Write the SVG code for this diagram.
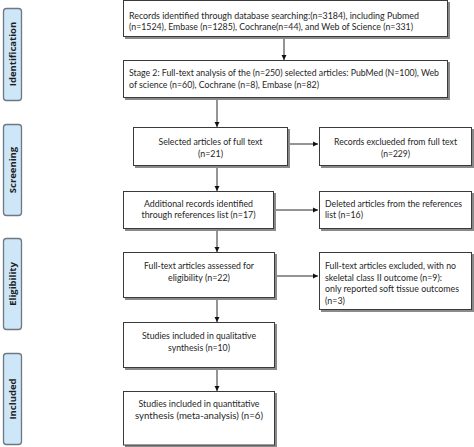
<svg xmlns="http://www.w3.org/2000/svg" width="474" height="447" viewBox="0 0 474 447">
<defs>
<style>
.bx{fill:#fff;stroke:#3a3a3a;stroke-width:1}
.sh{fill:#8a8a8a}
.t{font-family:Lato,"Liberation Sans",sans-serif;font-size:9.4px;fill:#262626}
.c{text-anchor:middle}
.lb{fill:#cde6f8;stroke:#6f7780;stroke-width:1.3}
.lt{font-family:"Open Sans","Liberation Sans",sans-serif;font-size:9.5px;font-weight:bold;fill:#1e1e1e;text-anchor:middle}
.ln{stroke:#2a2a2a;stroke-width:1;fill:none;marker-end:url(#ah)}
</style>
<marker id="ah" markerWidth="6" markerHeight="6" refX="5" refY="3" orient="auto" markerUnits="userSpaceOnUse">
<path d="M0,0.5 L5,3 L0,5.5 Z" fill="#111"/>
</marker>
</defs>

<g id="label-identification">
<rect class="lb" x="3.5" y="8.5" width="18" height="92" rx="3"/>
<text class="lt" transform="translate(15.8,54) rotate(-90)">Identification</text>
</g>
<g id="label-screening">
<rect class="lb" x="3.5" y="124.5" width="18" height="91" rx="3"/>
<text class="lt" transform="translate(15.8,170) rotate(-90)">Screening</text>
</g>
<g id="label-eligibility">
<rect class="lb" x="3.5" y="238.5" width="18" height="91" rx="3"/>
<text class="lt" transform="translate(15.8,284) rotate(-90)">Eligibility</text>
</g>
<g id="label-included">
<rect class="lb" x="3.5" y="353.5" width="18" height="91" rx="3"/>
<text class="lt" transform="translate(15.8,399) rotate(-90)">Included</text>
</g>

<g id="connectors">
<line class="ln" x1="284" y1="37" x2="284" y2="60"/>
<line class="ln" x1="217" y1="98" x2="217" y2="127"/>
<line class="ln" x1="217" y1="166" x2="217" y2="191"/>
<line class="ln" x1="217" y1="229" x2="217" y2="252"/>
<line class="ln" x1="217" y1="298" x2="217" y2="322"/>
<line class="ln" x1="217" y1="368" x2="217" y2="391"/>
<line class="ln" x1="288" y1="144" x2="318" y2="144"/>
<line class="ln" x1="274" y1="210" x2="318" y2="210"/>
<line class="ln" x1="275" y1="276" x2="318" y2="276"/>
</g>

<g id="n1">
<rect class="sh" x="125" y="2" width="325" height="37"/>
<rect class="bx" x="123.5" y="0.5" width="324" height="36"/>
<text class="t" x="129" y="18.5" textLength="290" lengthAdjust="spacingAndGlyphs">Records identified through database searching:(n=3184), including Pubmed</text>
<text class="t" x="129" y="30" textLength="284" lengthAdjust="spacingAndGlyphs">(n=1524), Embase (n=1285), Cochrane(n=44), and Web of Science (n=331)</text>
</g>
<g id="n2">
<rect class="sh" x="125" y="62" width="325" height="38"/>
<rect class="bx" x="123.5" y="60.5" width="324" height="37"/>
<text class="t" x="129" y="76" textLength="310" lengthAdjust="spacingAndGlyphs">Stage 2: Full-text analysis of the (n=250) selected articles: PubMed (N=100), Web</text>
<text class="t" x="129" y="88" textLength="190" lengthAdjust="spacingAndGlyphs">of science (n=60), Cochrane (n=8), Embase (n=82)</text>
</g>
<g id="n3">
<rect class="sh" x="135" y="129" width="155" height="39"/>
<rect class="bx" x="133.5" y="127.5" width="154" height="38"/>
<text class="t c" x="210.5" y="144.5" textLength="104" lengthAdjust="spacingAndGlyphs">Selected articles of full text</text>
<text class="t c" x="210.5" y="156.5" textLength="25" lengthAdjust="spacingAndGlyphs">(n=21)</text>
</g>
<g id="n4">
<rect class="sh" x="321" y="129" width="153" height="39"/>
<rect class="bx" x="319.5" y="127.5" width="152" height="38"/>
<text class="t c" x="395.5" y="144.5" textLength="123" lengthAdjust="spacingAndGlyphs">Records exclueded from full text</text>
<text class="t c" x="395.5" y="156.5" textLength="29" lengthAdjust="spacingAndGlyphs">(n=229)</text>
</g>
<g id="n5">
<rect class="sh" x="125" y="193" width="151" height="38"/>
<rect class="bx" x="123.5" y="191.5" width="150" height="37"/>
<text class="t c" x="198.5" y="206.5" textLength="109" lengthAdjust="spacingAndGlyphs">Additional records identified</text>
<text class="t c" x="198.5" y="218" textLength="114" lengthAdjust="spacingAndGlyphs">through references list (n=17)</text>
</g>
<g id="n6">
<rect class="sh" x="321" y="193" width="153" height="38"/>
<rect class="bx" x="319.5" y="191.5" width="152" height="37"/>
<text class="t" x="325" y="206.5" textLength="137" lengthAdjust="spacingAndGlyphs">Deleted articles from the references</text>
<text class="t" x="325" y="218" textLength="38" lengthAdjust="spacingAndGlyphs">list (n=16)</text>
</g>
<g id="n7">
<rect class="sh" x="125" y="254" width="152" height="46"/>
<rect class="bx" x="123.5" y="252.5" width="151" height="45"/>
<text class="t c" x="199" y="269" textLength="110" lengthAdjust="spacingAndGlyphs">Full-text articles assessed for</text>
<text class="t c" x="199" y="280.5" textLength="62" lengthAdjust="spacingAndGlyphs">eligibility (n=22)</text>
</g>
<g id="n8">
<rect class="sh" x="321" y="254" width="153" height="58"/>
<rect class="bx" x="319.5" y="252.5" width="152" height="57"/>
<text class="t" x="325" y="269" textLength="131" lengthAdjust="spacingAndGlyphs">Full-text articles excluded, with no</text>
<text class="t" x="325" y="280.5" textLength="117" lengthAdjust="spacingAndGlyphs">skeletal class II outcome (n=9):</text>
<text class="t" x="325" y="292" textLength="134" lengthAdjust="spacingAndGlyphs">only reported soft tissue outcomes</text>
<text class="t" x="325" y="303.5" textLength="20" lengthAdjust="spacingAndGlyphs">(n=3)</text>
</g>
<g id="n9">
<rect class="sh" x="125" y="324" width="152" height="46"/>
<rect class="bx" x="123.5" y="322.5" width="151" height="45"/>
<text class="t c" x="199" y="339" textLength="114" lengthAdjust="spacingAndGlyphs">Studies included in qualitative</text>
<text class="t c" x="199" y="350.5" textLength="62" lengthAdjust="spacingAndGlyphs">synthesis (n=10)</text>
</g>
<g id="n10">
<rect class="sh" x="125" y="393" width="152" height="54"/>
<rect class="bx" x="123.5" y="391.5" width="151" height="53.5"/>
<text class="t c" x="199" y="407" textLength="121" lengthAdjust="spacingAndGlyphs">Studies included in quantitative</text>
<text class="t c" x="199" y="418.5" textLength="128" lengthAdjust="spacingAndGlyphs">synthesis (meta-analysis) (n=6)</text>
</g>
</svg>
